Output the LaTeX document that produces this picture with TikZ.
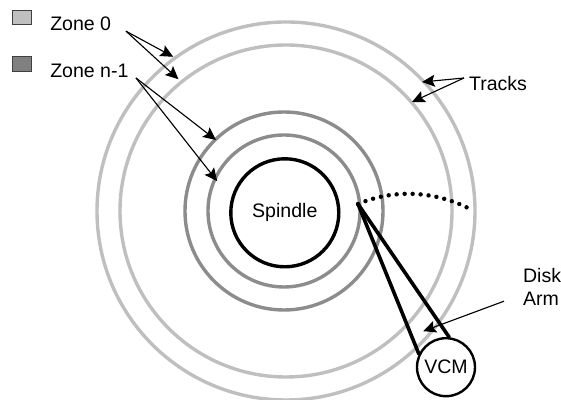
\documentclass[tikz,border=0pt]{standalone}
\usepackage{fontspec}
\setmainfont{Liberation Sans}
\usepackage{tikz}
\usetikzlibrary{arrows.meta, positioning}

\begin{document}
\begin{tikzpicture}[
  track/.style={circle, draw=#1, line width=0.085cm, inner sep=0pt},
  legendbox/.style={rectangle, draw=black!75, fill=#1, line width=0.6pt, inner sep=0pt,
    minimum width=0.47cm, minimum height=0.36cm},
  lbl/.style={font=\fontsize{13.9pt}{16.7pt}\selectfont, align=left, inner sep=0pt},
  arr/.style={-{Stealth[length=0.32cm, width=0.3cm, inset=0.06cm]}, line width=0.8pt},
  armline/.style={line width=0.09cm, line cap=round},
]
\useasboundingbox (0,0) rectangle (14.025,10);

% Tracks
\node[track=black!25, minimum size=9.45cm] (t_outer) at (7.15,4.725) {};
\node[track=black!25, minimum size=8.3cm] (t_inner) at (7.15,4.725) {};
\node[track=black!45, minimum size=4.95cm] (t_n1) at (7.1,4.725) {};
\node[track=black!45, minimum size=3.8cm] (t_n2) at (7.1,4.725) {};
\node[track=black, lbl, minimum size=2.7cm] (spindle) at (7.12,4.68) {Spindle};

% Legend
\node[legendbox=black!25] (box0) at (0.54,9.56) {};
\node[legendbox=black!50] (box1) at (0.54,8.4) {};
\node[lbl, anchor=west] (zone0) at (1.25,9.4) {Zone 0};
\node[lbl, anchor=west] (zone1) at (1.25,8.22) {Zone n-1};
\node[lbl, anchor=west] (tracks) at (11.72,7.92) {Tracks};
\node[lbl, anchor=west] (diskarm) at (13.07,2.83) {Disk\\Arm};

% Arm
\coordinate (pivot) at (8.95,4.9);
\coordinate (sweep) at (11.7,4.8);
\node[circle, draw, line width=0.06cm, fill=white, lbl, minimum size=1.45cm] (vcm) at (11.15,0.82) {VCM};
\draw[armline] (pivot) -- (vcm.154);
\draw[armline] (pivot) -- (vcm.84);
\draw[line width=0.11cm, line cap=round, dash pattern=on 0pt off 0.2cm]
  (pivot) .. controls (9.9,5.3) and (10.9,5.2) .. (sweep);

% Arrows
\coordinate (a0s) at (3.15,9.22);
\coordinate (a1s) at (3.4,8.05);
\coordinate (a2s) at (11.6,8.05);
\coordinate (a3s) at (12.6,2.47);
\draw[arr] (a0s) -- (4.33,8.58);
\draw[arr] (a0s) -- (4.46,8.02);
\draw[arr] (a1s) -- (5.4,6.5);
\draw[arr] (a1s) -- (5.43,5.47);
\draw[arr] (a2s) -- (10.55,7.95);
\draw[arr] (a2s) -- (10.3,7.45);
\draw[arr] (a3s) -- (10.58,1.72);

\end{tikzpicture}
\end{document}
